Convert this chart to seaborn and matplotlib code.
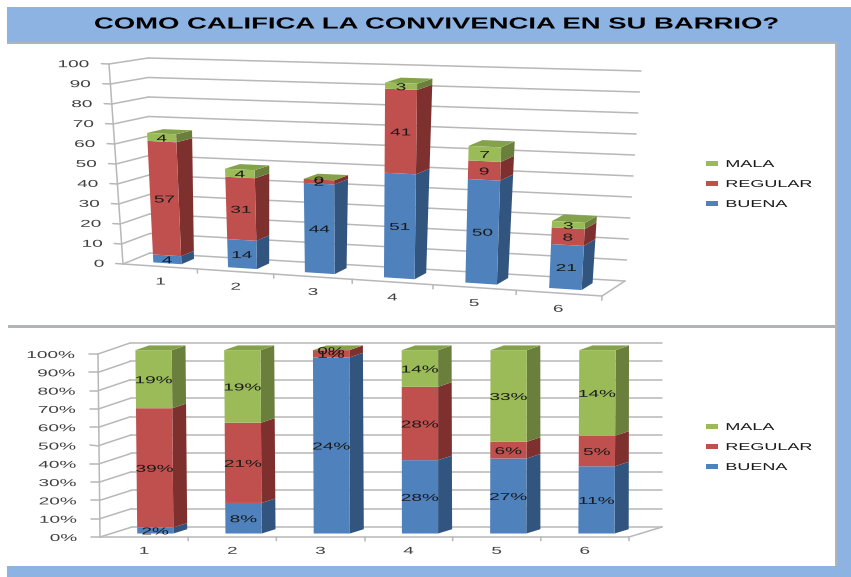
import numpy as np
import pandas as pd
import seaborn as sns
import matplotlib
matplotlib.use("Agg")
import matplotlib.pyplot as plt
import matplotlib.patheffects as pe
from matplotlib.colors import to_hex
from matplotlib.patches import Patch, Polygon, Rectangle
from matplotlib.transforms import Affine2D, IdentityTransform, Transform

W, H = 851, 577

# data
grupos = [1, 2, 3, 4, 5, 6]
niveles = ["MALA", "REGULAR", "BUENA"]

buena_n = [4, 14, 44, 51, 50, 21]
regular_n = [57, 31, 2, 41, 9, 8]
mala_n = [4, 4, 0, 3, 7, 3]

buena_pct = [2, 8, 24, 28, 27, 11]
regular_pct = [39, 21, 1, 28, 6, 5]
mala_pct = [19, 19, 0, 14, 33, 14]

ticks_n = [0, 10, 20, 30, 40, 50, 60, 70, 80, 90, 100]
ticks_pct = [0, 10, 20, 30, 40, 50, 60, 70, 80, 90, 100]

titulo = "COMO CALIFICA LA CONVIVENCIA EN SU BARRIO?"

# front, side and top colours of each series
front = {"MALA": "#9bbb59", "REGULAR": "#c0504d", "BUENA": "#4f81bd"}
side = {"MALA": "#6b7f3d", "REGULAR": "#7d302e", "BUENA": "#31557f"}
top = {"MALA": "#84a24a", "REGULAR": "#953735", "BUENA": "#3f6797"}
GRID = "#b8b8b8"
BLUE = "#8db3e2"
SHADOW = "#aeb4ba"

# pixel corners of the chart box, [depth][value][x]
box_n = np.array([[[(123, 264), (602, 296)], [(109, 64), (612, 85)]],
                  [[(150, 253), (625, 281)], [(148, 58), (641, 71)]]], float)
box_pct = np.array([[[(100, 537), (629, 537)], [(98, 354), (631, 354)]],
                    [[(132, 527), (662, 527)], [(130, 343), (662, 343)]]], float)


class Stretch(pe.AbstractPathEffect):
    """The reference text is squashed, so widen the glyphs around an anchor."""

    def __init__(self, sx, anchor=0.5):
        super().__init__()
        self.sx = sx
        self.anchor = anchor

    def draw_path(self, renderer, gc, tpath, affine, rgbFace=None):
        ext = tpath.get_extents()
        cx = ext.x0 + self.anchor * ext.width
        wide = Affine2D().translate(-cx, 0).scale(self.sx, 1).translate(cx, 0)
        renderer.draw_path(gc, tpath, wide + affine, rgbFace)


class Box3D(Transform):
    """(x, value) on a plane of given depth -> figure pixels, trilinear in the box.
    persp > 1 makes the categories get wider towards the right, like the top chart."""
    input_dims = 2
    output_dims = 2
    has_inverse = False

    def __init__(self, box, vmax, plane_depth, persp=1.0):
        super().__init__()
        self.box, self.vmax, self.plane_depth, self.persp = box, vmax, plane_depth, persp

    def transform_non_affine(self, values):
        values = np.asarray(values, float)
        u = ((values[:, 0] - 0.5) / 6)[:, None]
        u = u / (self.persp - (self.persp - 1) * u)
        v = (values[:, 1] / self.vmax)[:, None]
        d = self.plane_depth
        plane = (1 - d) * self.box[0] + d * self.box[1]
        low = (1 - u) * plane[0][0] + u * plane[0][1]
        high = (1 - u) * plane[1][0] + u * plane[1][1]
        out = (1 - v) * low + v * high
        out[:, 1] = H - out[:, 1]
        return out


def band(fig, x0, y0, x1, y1, color):
    fig.add_artist(Rectangle((x0 / W, 1 - y1 / H), (x1 - x0) / W, (y1 - y0) / H,
                             facecolor=color, linewidth=0, zorder=-1))


def draw_chart(fig, buena, regular, mala, box, multiple, vmax, ticks, fmt,
               shrink, d0, d1, persp, legend_y):
    ax = fig.add_axes([0, 0, 1, 1])
    ax.set_axis_off()
    valores = {"BUENA": buena, "REGULAR": regular, "MALA": mala}
    df = pd.DataFrame({
        "grupo": grupos * 3,
        "nivel": ["BUENA"] * 6 + ["REGULAR"] * 6 + ["MALA"] * 6,
        "valor": buena + regular + mala,
    })
    sns.histplot(df, x="grupo", hue="nivel", weights="valor", multiple=multiple,
                 discrete=True, shrink=shrink, hue_order=niveles, palette=front,
                 alpha=1, linewidth=0, legend=False, ax=ax)

    back_tf = Box3D(box, vmax, 1.0, persp)
    front_tf = Box3D(box, vmax, 0.0, persp)
    face_tf = Box3D(box, vmax, d0, persp)
    rear_tf = Box3D(box, vmax, d1, persp)

    # walls and grid
    grid_kw = dict(color=GRID, lw=1.1, zorder=1, clip_on=False)
    for t in ticks:
        val = t / 100 * vmax
        ax.plot([0.5, 6.5], [val, val], transform=back_tf, **grid_kw)
        left = [front_tf.transform([(0.5, val)])[0], back_tf.transform([(0.5, val)])[0]]
        ax.plot(*zip(*left), transform=IdentityTransform(), **grid_kw)
        ax.plot([0.4, 0.5], [val, val], transform=front_tf, **grid_kw)
        ax.text(0.5 - 0.26, val, fmt.format(t), transform=front_tf, ha="right",
                va="center_baseline", fontsize=7.2, color="#404040", clip_on=False,
                path_effects=[Stretch(1.9, 1.0)])
    ax.plot([0.5, 0.5], [0, vmax], transform=front_tf, **grid_kw)
    ax.plot([0.5, 6.5], [0, 0], transform=front_tf, **grid_kw)
    right = [front_tf.transform([(6.5, 0)])[0], back_tf.transform([(6.5, 0)])[0]]
    ax.plot(*zip(*right), transform=IdentityTransform(), **grid_kw)
    for g in grupos:
        ax.plot([g + 0.5, g + 0.5], [0, -0.02 * vmax], transform=front_tf, **grid_kw)
        ax.text(g, -0.07 * vmax, str(g), transform=front_tf, ha="center",
                va="center_baseline", fontsize=7.2, color="#404040", clip_on=False,
                path_effects=[Stretch(1.9)])

    # seaborn's stacked bars become the front faces, side and top faces follow them
    nombre = {to_hex(c): n for n, c in front.items()}
    for p in list(ax.patches):
        n = nombre[to_hex(p.get_facecolor())]
        x0, x1 = p.get_x(), p.get_x() + p.get_width()
        y0, y1 = p.get_y(), p.get_y() + p.get_height()
        p.set_transform(face_tf)
        p.set_zorder(3)
        p.set_clip_on(False)
        pts = np.vstack([face_tf.transform([(x1, y0), (x1, y1)]),
                         rear_tf.transform([(x1, y1), (x1, y0)])])
        ax.add_patch(Polygon(pts, facecolor=side[n], linewidth=0, zorder=2,
                             transform=IdentityTransform(), clip_on=False))
        if n == "MALA":
            pts = np.vstack([face_tf.transform([(x0, y1), (x1, y1)]),
                             rear_tf.transform([(x1, y1), (x0, y1)])])
            ax.add_patch(Polygon(pts, facecolor=top[n], linewidth=0, zorder=2,
                                 transform=IdentityTransform(), clip_on=False))
        g = int(round((x0 + x1) / 2))
        ax.text((x0 + x1) / 2, (y0 + y1) / 2, fmt.format(valores[n][g - 1]),
                transform=face_tf, ha="center", va="center_baseline", fontsize=7.2,
                color="#1a1a1a", zorder=5, clip_on=False,
                path_effects=[Stretch(1.9)])

    handles = [Patch(facecolor=front[n], linewidth=0, label=n) for n in niveles]
    leg = ax.legend(handles=handles, loc="center left", frameon=False,
                    bbox_to_anchor=(706 / W, 1 - legend_y / H), borderaxespad=0,
                    borderpad=0, fontsize=7.2, handlelength=1.2, handleheight=0.5,
                    handletextpad=0.8, labelspacing=1.0)
    for t in leg.get_texts():
        t.set_color("#1a1a1a")
        t.set_path_effects([Stretch(1.8, 0.0)])
    return ax


sns.set_theme(style="white")
plt.rcParams["font.family"] = ["Liberation Sans", "DejaVu Sans"]

fig = plt.figure(figsize=(W / 100, H / 100), dpi=100, facecolor="white")

band(fig, 7, 7, W, 44, BLUE)
band(fig, 7, 42, 837, 44, SHADOW)
band(fig, 837, 44, W, 566, BLUE)
band(fig, 835, 44, 837, 566, SHADOW)
band(fig, 8, 325, 837, 328, SHADOW)
band(fig, 7, 566, W, H, BLUE)

fig.text(437 / W, 1 - 24 / H, titulo, ha="center", va="center", fontsize=11.5,
         fontweight="bold", color="black", path_effects=[Stretch(1.72)])

draw_chart(fig, buena_n, regular_n, mala_n, box_n, "stack", 100, ticks_n, "{}",
           0.38, 0.28, 0.75, 1.09, 184)
draw_chart(fig, buena_pct, regular_pct, mala_pct, box_pct, "fill", 1, ticks_pct, "{}%",
           0.41, 0.35, 0.78, 1.0, 447)

fig.savefig("out.png", dpi=100)
